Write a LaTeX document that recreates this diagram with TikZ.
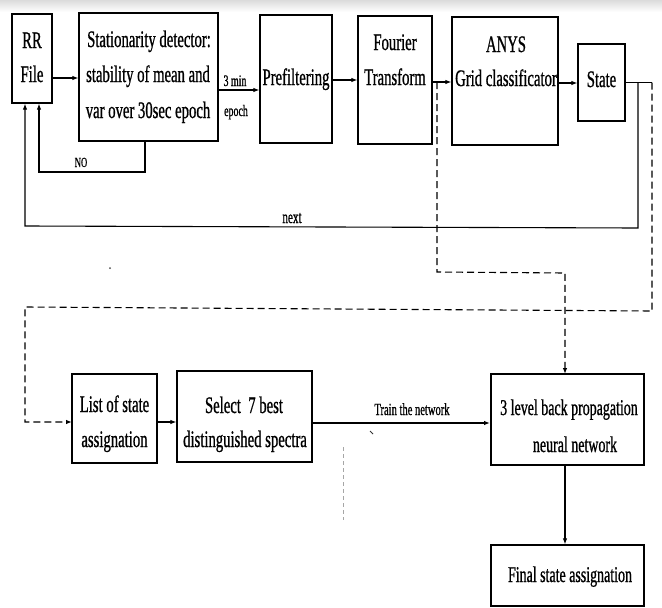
\documentclass[tikz,border=0pt]{standalone}
\usepackage{fontspec}
\setmainfont{Liberation Serif}[FakeStretch=0.62,FakeBold=0.8]
\usetikzlibrary{arrows.meta}
\begin{document}
\begin{tikzpicture}[x=1pt,y=-1pt,
  box/.style={draw, line width=1.3pt, inner sep=0pt, rectangle},
  big/.style={inner sep=0pt, anchor=base, font=\fontsize{23.7}{28}\selectfont},
  small/.style={inner sep=0pt, anchor=base, font=\fontsize{16}{18}\selectfont},
  conn/.style={line width=1.1pt},
  arr/.style={line width=1.1pt, -{Latex[length=6pt,width=4.5pt]}},
  dashline/.style={line width=1.1pt, dash pattern=on 7pt off 4pt}]
\useasboundingbox (0,0) rectangle (662,608);
\fill[white] (0,0) rectangle (662,608);
\shade[top color=gray!28, bottom color=white] (0,0) rectangle (662,12);

% top row boxes
\node[box, minimum width=40pt, minimum height=89pt] (rr) at (32,58.5) {};
\node[big] (rrt1) at (32,48) {RR};
\node[big] (rrt2) at (32,82) {File};

\node[box, minimum width=139pt, minimum height=128pt] (stat) at (148.5,77) {};
\node[big] (st1) at (149,47) {Stationarity detector:};
\node[big] (st2) at (148,82) {stability of mean and};
\node[big] (st3) at (148,118) {var over 30sec epoch};

\node[box, minimum width=72pt, minimum height=128pt] (pref) at (296,79) {};
\node[big] (preft) at (296,85) {Prefiltering};

\node[box, minimum width=74pt, minimum height=128pt] (four) at (395,80) {};
\node[big] (fo1) at (395,50) {Fourier};
\node[big] (fo2) at (395,85) {Transform};

\node[box, minimum width=106pt, minimum height=128pt] (anys) at (505,81) {};
\node[big] (an1) at (506,52) {ANYS};
\node[big] (an2) at (506,86) {Grid classificator};

\node[box, minimum width=47pt, minimum height=77pt] (state) at (601.5,82.5) {};
\node[big] (stt) at (601.5,87) {State};

% top row arrows
\draw[arr] (rr.east |- 0,78) -- (stat.west |- 0,78);
\draw[arr] (stat.east |- 0,90) -- (pref.west |- 0,90);
\node[small] (min3) at (235,86) {3 min};
\node[small] (epo) at (236,116) {epoch};
\draw[arr] (pref.east |- 0,80) -- (four.west |- 0,80);
\draw[arr] (four.east |- 0,82) -- (anys.west |- 0,82);
\draw[arr] (anys.east |- 0,83) -- (state.west |- 0,83);
\draw[conn] (state.east) -- (652,82.5);

% NO loop
\draw[arr] (145,0 |- stat.south) -- (145,172) -- (39,172) -- (39,0 |- rr.south);
\node[small, font=\fontsize{14}{16}\selectfont] (no) at (81,167) {NO};

% next loop
\draw[arr] (638,82.5) -- (638,228) -- (25,226) -- (25,0 |- rr.south);
\node[small, font=\fontsize{18}{20}\selectfont] (nxt) at (292,223) {next};

% dashed connectors
\draw[dashline, -{Latex[length=6pt,width=4.5pt]}] (437,82) -- (437,272) -- (565,273) -- (565,0 |- 0,374);
\draw[dashline, -{Latex[length=6pt,width=4.5pt]}] (652,82.5) -- (652,311) -- (25,307) -- (25,422) -- (72,422);

% bottom row
\node[box, minimum width=85pt, minimum height=89pt] (list) at (114.5,418.5) {};
\node[big] (li1) at (114.5,412) {List of state};
\node[big] (li2) at (114.5,447) {assignation};

\node[box, minimum width=135pt, minimum height=91pt] (sel) at (244.5,416.5) {};
\node[big] (se1) at (244,413) {Select\ \ 7 best};
\node[big] (se2) at (245,447) {distinguished spectra};

\node[draw, line width=2pt, inner sep=0pt, rectangle, minimum width=153pt, minimum height=91pt] (nn) at (567.5,419.5) {};
\node[big, font=\fontsize{22.5}{26}\selectfont] (nn1) at (569,415) {3 level back propagation};
\node[big, font=\fontsize{22.5}{26}\selectfont] (nn2) at (575,452) {neural network};

\node[box, minimum width=153pt, minimum height=61pt] (fin) at (567.5,575.5) {};
\node[big, font=\fontsize{22.5}{26}\selectfont] (fint) at (570,582) {Final state assignation};

\draw[arr] (list.east |- 0,422) -- (sel.west |- 0,422);
\draw[arr] (sel.east |- 0,423) -- (nn.west |- 0,423);
\node[small, font=\fontsize{17}{19}\selectfont] (train) at (412,415) {Train the network};
\draw[arr] (565,0 |- nn.south) -- (565,0 |- fin.north);

% scan marks
\draw[gray!70, line width=0.6pt, dash pattern=on 4pt off 3pt] (343,447) -- (343,520);
\fill[black!70] (110,268) circle (1pt);
\draw[black!80, line width=1pt] (370,431) -- (373,434);
\end{tikzpicture}
\end{document}
